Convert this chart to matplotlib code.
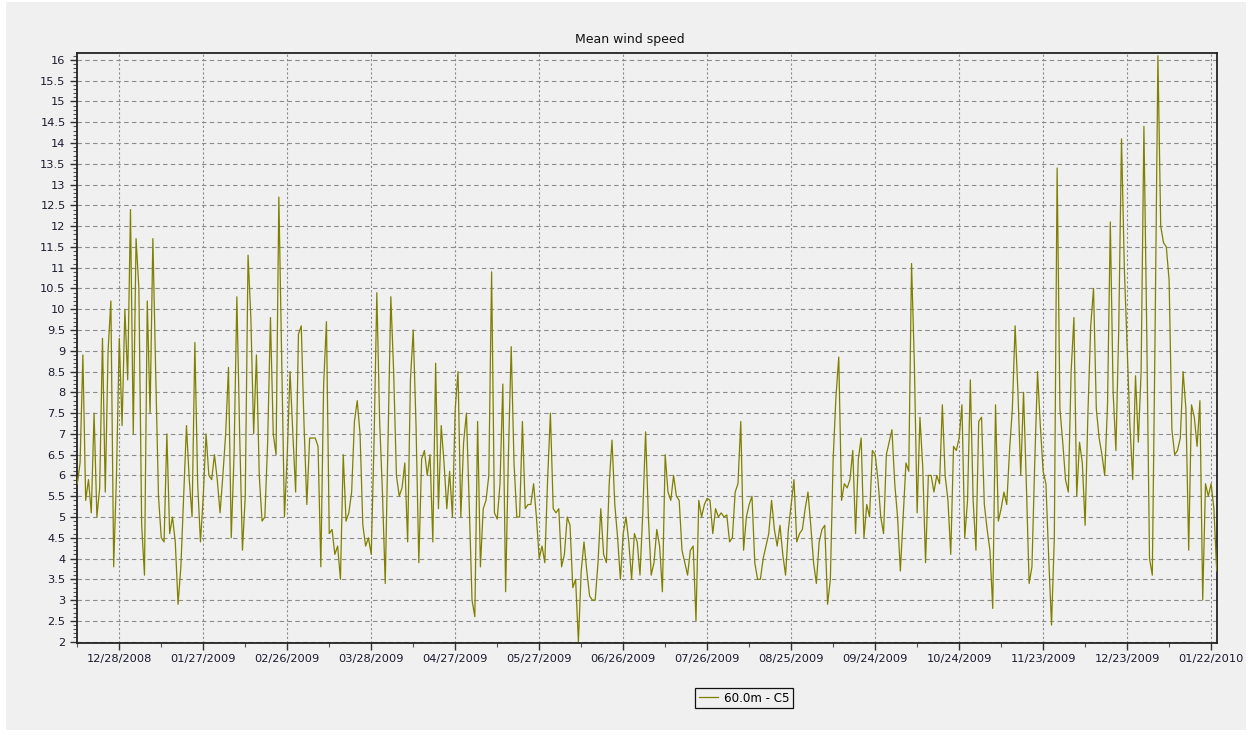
import matplotlib
matplotlib.use('Agg')
import matplotlib.pyplot as plt
import matplotlib.dates as mdates
from matplotlib.patches import Rectangle
from matplotlib.ticker import MultipleLocator, FormatStrFormatter, FixedLocator
import numpy as np
import pandas as pd

# Daily mean wind speed at 60.0 m (sensor C5), m/s, one list per month
dec_2008 = [5.8, 6.3, 8.9, 5.4, 5.9, 5.1, 7.5, 5.0, 5.7, 9.3, 5.6, 9.0, 10.2, 3.8, 6.0,
            9.3, 7.2, 10.0, 8.3]
jan_2009 = [12.4, 7.0, 11.7, 10.5, 4.8, 3.6, 10.2, 7.5, 11.7, 8.5, 5.5, 4.5, 4.4, 7.0, 4.6,
            5.0, 4.4, 2.9, 3.8, 5.5, 7.2, 5.9, 5.0, 9.2, 5.8, 4.4, 5.5, 7.0, 6.0, 5.9, 6.5]
feb_2009 = [5.9, 5.1, 6.0, 7.0, 8.6, 4.5, 6.5, 10.3, 7.0, 4.2, 5.5, 11.3, 9.8, 7.0, 8.9,
            6.0, 4.9, 5.0, 6.8, 9.8, 7.0, 6.5, 12.7, 8.8, 5.0, 6.5, 8.5, 7.0]
mar_2009 = [5.6, 9.4, 9.6, 7.2, 5.3, 6.9, 6.9, 6.9, 6.7, 3.8, 8.2, 9.7, 4.6, 4.7, 4.1,
            4.3, 3.5, 6.5, 4.9, 5.1, 5.6, 7.3, 7.8, 7.0, 4.8, 4.3, 4.5, 4.1, 6.8, 10.4, 7.3]
apr_2009 = [5.6, 3.4, 6.9, 10.3, 8.5, 6.0, 5.5, 5.7, 6.3, 4.4, 8.3, 9.5, 7.2, 3.9, 6.4,
            6.6, 6.0, 6.5, 4.4, 8.7, 5.2, 7.2, 6.3, 5.2, 6.1, 5.0, 7.6, 8.5, 5.0, 6.8]
may_2009 = [7.5, 5.3, 3.0, 2.6, 7.3, 3.8, 5.2, 5.4, 6.0, 10.9, 5.1, 4.95, 5.8, 8.2, 3.2,
            6.5, 9.1, 6.3, 5.0, 5.0, 7.3, 5.2, 5.3, 5.3, 5.8, 5.0, 4.0, 4.3, 3.9, 5.9, 7.5]
jun_2009 = [5.2, 5.1, 5.2, 3.8, 4.1, 5.0, 4.8, 3.3, 3.5, 2.0, 3.7, 4.4, 3.7, 3.1, 3.0,
            3.0, 3.9, 5.2, 4.1, 3.9, 5.8, 6.85, 5.3, 4.5, 3.5, 4.6, 5.0, 4.4, 3.5, 4.6]
jul_2009 = [4.4, 3.6, 5.1, 7.05, 5.0, 3.6, 3.9, 4.7, 4.3, 3.2, 6.5, 5.6, 5.4, 6.0, 5.5,
            5.4, 4.2, 3.9, 3.6, 4.2, 4.3, 2.5, 5.4, 5.0, 5.3, 5.45, 5.4, 4.6, 5.2, 5.0, 5.1]
aug_2009 = [5.0, 5.05, 4.4, 4.5, 5.6, 5.8, 7.3, 4.2, 5.0, 5.3, 5.5, 3.9, 3.5, 3.5, 4.0,
            4.3, 4.6, 5.4, 4.7, 4.3, 4.8, 4.1, 3.6, 4.7, 5.3, 5.9, 4.4, 4.6, 4.7, 5.2, 5.6]
sep_2009 = [4.8, 3.9, 3.4, 4.4, 4.7, 4.8, 2.9, 3.5, 6.4, 7.9, 8.85, 5.4, 5.8, 5.7, 5.9,
            6.6, 4.6, 6.4, 6.9, 4.5, 5.3, 5.0, 6.6, 6.5, 5.9, 5.0, 4.6, 6.5, 6.8, 7.1]
oct_2009 = [5.8, 5.0, 3.7, 5.0, 6.3, 6.1, 11.1, 8.7, 5.1, 7.4, 6.2, 3.9, 6.0, 6.0, 5.6,
            6.0, 5.8, 7.7, 6.0, 5.4, 4.1, 6.7, 6.6, 6.9, 7.7, 4.5, 5.4, 8.3, 5.4, 4.2, 7.3]
nov_2009 = [7.4, 5.3, 4.7, 4.2, 2.8, 7.7, 4.9, 5.2, 5.6, 5.3, 6.6, 7.6, 9.6, 8.0, 6.0,
            8.0, 5.8, 3.4, 3.8, 6.3, 8.5, 7.2, 6.1, 5.8, 4.0, 2.4, 4.5, 13.4, 7.6, 6.8]
dec_2009 = [5.9, 5.6, 8.5, 9.8, 5.5, 6.8, 6.3, 4.8, 7.5, 9.6, 10.5, 7.6, 6.9, 6.5, 6.0,
            7.7, 12.1, 8.0, 6.6, 9.5, 14.1, 11.0, 9.1, 7.2, 5.9, 8.4, 6.8, 8.5, 14.4, 9.5, 4.0]
jan_2010 = [3.6, 9.5, 16.1, 12.0, 11.6, 11.5, 10.7, 7.1, 6.5, 6.6, 6.9, 8.5, 7.6, 4.2, 7.7,
            7.4, 6.7, 7.8, 3.0, 5.8, 5.5, 5.8, 5.2, 3.7]

first_day = '2008-12-13'
first_label_day = '2008-12-28'
series_name = '60.0m - C5'

speed = np.concatenate([dec_2008, jan_2009, feb_2009, mar_2009, apr_2009, may_2009,
                        jun_2009, jul_2009, aug_2009, sep_2009, oct_2009, nov_2009,
                        dec_2009, jan_2010])
dates = pd.date_range(first_day, periods=len(speed), freq='D')

W, H = 1251, 735
fig = plt.figure(figsize=(W / 100, H / 100), dpi=100, facecolor='white')
# grey panel with a thin white margin around it, kept behind the axes
fig.patches.append(Rectangle((6 / W, 5 / H), 1 - 11 / W, 1 - 7 / H, transform=fig.transFigure,
                             facecolor='#f0f0f0', edgecolor='none', zorder=-10))

ax = fig.add_axes([76.7 / W, 1 - 643.3 / H, 1140 / W, 590 / H])
ax.set_facecolor('#f0f0f0')

line, = ax.plot(dates, speed, color='#808000', lw=0.9, label=series_name, zorder=3)

# axis ranges
ax.set_ylim(1.96, 16.16)
ax.set_xlim(pd.Timestamp('2008-12-12 19:00'), pd.Timestamp('2010-01-24 00:00'))

major_days = pd.date_range(first_label_day, periods=14, freq='30D')
minor_days = pd.date_range('2008-12-13', periods=28, freq='15D')
ax.xaxis.set_major_locator(FixedLocator(mdates.date2num(major_days)))
ax.xaxis.set_minor_locator(FixedLocator(mdates.date2num(minor_days)))
ax.xaxis.set_major_formatter(mdates.DateFormatter('%m/%d/%Y'))

ax.yaxis.set_major_locator(MultipleLocator(0.5))
ax.yaxis.set_minor_locator(MultipleLocator(0.1))
ax.yaxis.set_major_formatter(FormatStrFormatter('%g'))

ax.tick_params(axis='both', which='major', direction='out', length=5, width=1,
               color='#333333', labelsize=8.2, labelcolor='#1a1a2e', pad=3)
ax.tick_params(axis='both', which='minor', direction='out', length=3, width=0.8,
               color='#555555')

ax.grid(True, axis='y', which='major', color='#8c8c8c', lw=0.8, ls=(0, (4, 3)))
ax.grid(True, axis='x', which='major', color='#8c8c8c', lw=0.8, ls=(0, (2, 2)))

for side in ['left', 'bottom', 'top', 'right']:
    ax.spines[side].set_color('#222222')
    ax.spines[side].set_linewidth(1.3)

fig.text(630 / W, 1 - 39 / H, 'Mean wind speed', ha='center', va='center',
         fontsize=9, color='#111111')

leg = fig.legend(handles=[line], loc='center', bbox_to_anchor=(744 / W, 1 - 698 / H),
                 fontsize=8.6, frameon=True, fancybox=False, framealpha=1,
                 edgecolor='#111111', facecolor='#f0f0f0', handlelength=1.6,
                 borderpad=0.3, borderaxespad=0, handletextpad=0.5)
leg.get_frame().set_linewidth(0.9)

fig.savefig('out.png', dpi=100, facecolor=fig.get_facecolor())
